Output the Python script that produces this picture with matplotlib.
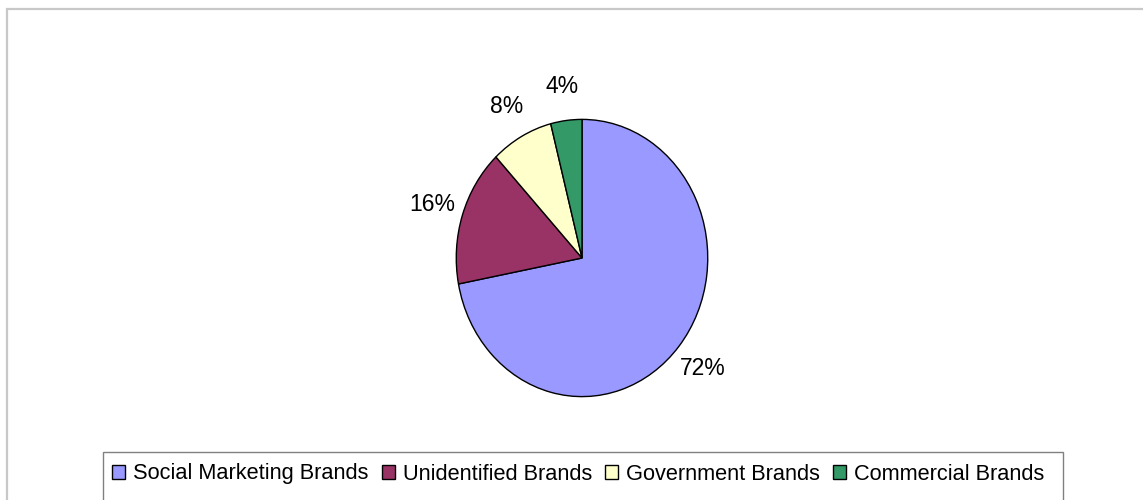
import matplotlib
matplotlib.use("Agg")
import matplotlib.pyplot as plt
from matplotlib.patches import Rectangle

plt.rcParams['font.family'] = ['Liberation Sans', 'DejaVu Sans']

categories = ["Social Marketing Brands", "Unidentified Brands", "Government Brands", "Commercial Brands"]
shares = [72, 16, 8, 4]
colors = ["#9999FF", "#993366", "#FFFFCC", "#339966"]

W, H = 1143, 500
fig = plt.figure(figsize=(W / 100, H / 100), dpi=100)

# outer chart frame (runs off the right and bottom edge)
fig.patches.append(Rectangle((7 / W, -0.1), 1.2, (H - 9) / H + 0.1, transform=fig.transFigure,
                             fill=False, edgecolor="#c8c8c8", linewidth=1.6, clip_on=False))

# pie, slightly taller than wide like the original
cx, cy, rx, ry = 582, 258, 127, 140
ax = fig.add_axes([(cx - rx) / W, (H - cy - ry) / H, 2 * rx / W, 2 * ry / H])
wedges, texts, autotexts = ax.pie(shares, colors=colors, startangle=90, counterclock=False,
                                  autopct='%1.0f%%', pctdistance=1.25,
                                  wedgeprops=dict(edgecolor="black", linewidth=1.0))
for t in autotexts:
    t.set_fontsize(16.5)
    t.set_color("black")
ax.set_aspect("auto")
ax.set_xlim(-1.01, 1.01)
ax.set_ylim(-1.01, 1.01)
ax.axis("off")

# legend box (bottom cut off by the image edge)
fig.patches.append(Rectangle((103 / W, -0.1), (1063 - 103) / W, (H - 452) / H + 0.1,
                             transform=fig.transFigure, fill=False, edgecolor="#808080",
                             linewidth=1.0, clip_on=False))
leg = fig.legend(wedges, categories, loc="center left", bbox_to_anchor=(112 / W, (H - 474) / H),
                 ncol=4, frameon=False, fontsize=15.7, handlelength=0.6, handleheight=0.65,
                 handletextpad=0.37, columnspacing=0.6, borderpad=0, borderaxespad=0)
for h in leg.legend_handles:
    h.set_edgecolor("black")
    h.set_linewidth(1.0)

fig.savefig("out.png", dpi=100)
